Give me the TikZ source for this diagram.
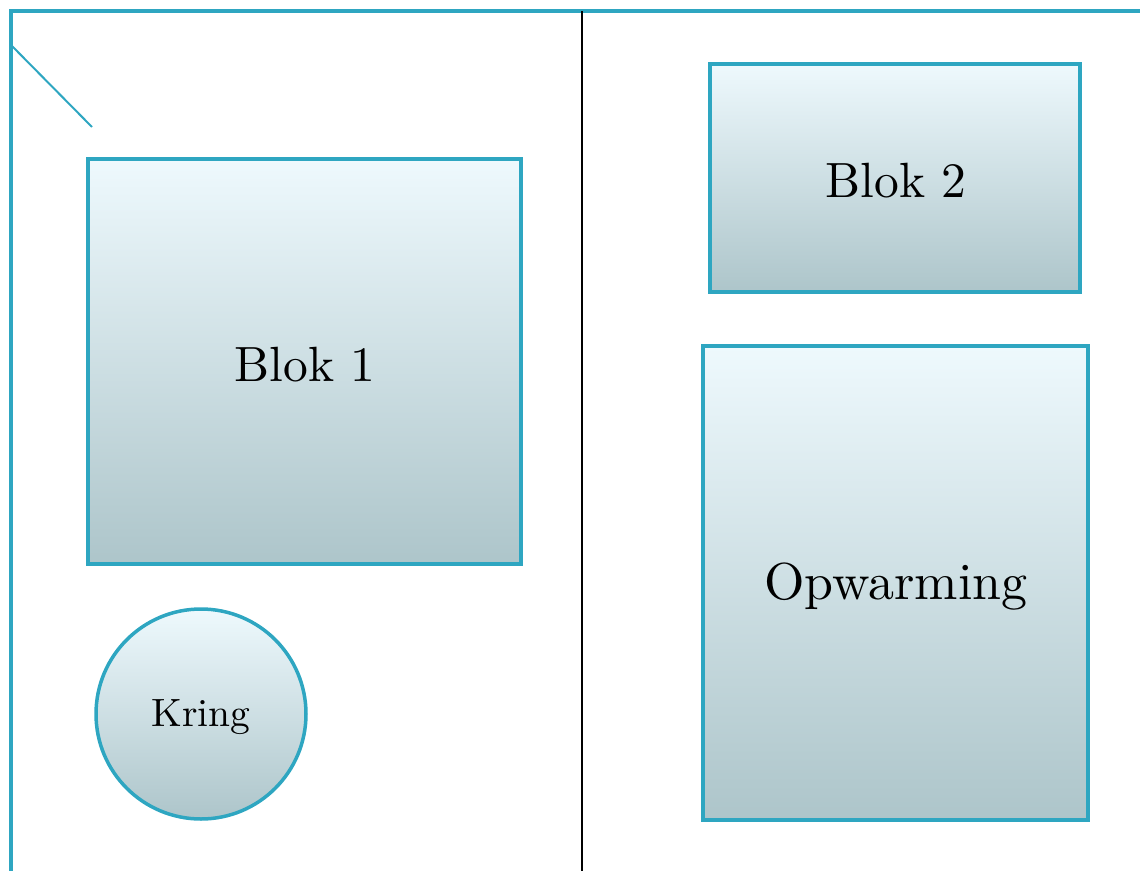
\documentclass[tikz,border=0pt]{standalone}
\usepackage{fontspec}
\newfontfamily\lmten{lmroman10-regular.otf}
\usetikzlibrary{shapes.geometric}
\definecolor{edge}{HTML}{2EA6C1}
\definecolor{topc}{HTML}{EEF9FD}
\definecolor{midc}{HTML}{DCEEF4}
\definecolor{botc}{HTML}{ADC5CA}
\tikzset{
  blockbox/.style={draw=edge, line width=3.5pt, top color=topc, middle color=midc, bottom color=botc, inner sep=0pt, outer sep=0pt, rectangle},
  roundbox/.style={draw=edge, line width=3.5pt, top color=topc, middle color=midc, bottom color=botc, inner sep=0pt, outer sep=0pt, circle},
  frameline/.style={draw=edge, line width=4pt},
  bigtext/.style={font=\lmten\fontsize{49.5}{58}\selectfont},
  widetext/.style={font=\lmten\fontsize{52}{60}\selectfont},
  smalltext/.style={font=\lmten\fontsize{39.5}{46}\selectfont}
}
\begin{document}
\begin{tikzpicture}[x=1pt,y=-1pt]
\useasboundingbox (0,0) rectangle (1140,870);
\coordinate (tl) at (11,11);
\coordinate (tr) at (1142,11);
\coordinate (bl) at (11,872);
\coordinate (d1) at (11,45);
\coordinate (d2) at (92,127);
\coordinate (vt) at (582,11);
\coordinate (vb) at (582,872);
\draw[frameline] (tr) -- (tl) -- (bl);
\draw[draw=edge, line width=2pt] (d1) -- (d2);
\draw[black, line width=2.5pt] (vt) -- (vb);
\node[blockbox, minimum width=433pt, minimum height=405pt] (b1) at (304.5,361.5) {};
\node[bigtext] (t1) at (305,365) {Blok 1};
\node[roundbox, minimum size=210pt] (kr) at (201,714) {};
\node[smalltext] (tk) at (201,717) {Kring};
\node[blockbox, minimum width=370pt, minimum height=228pt] (b2) at (895,178) {};
\node[bigtext] (t2) at (896,181) {Blok 2};
\node[blockbox, minimum width=385pt, minimum height=474pt] (op) at (895.5,583) {};
\node[widetext] (t3) at (896,587) {Opwarming};
\end{tikzpicture}
\end{document}
